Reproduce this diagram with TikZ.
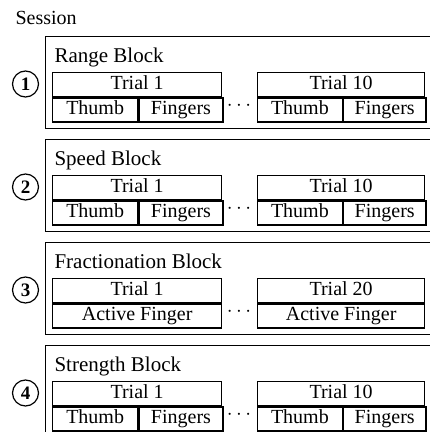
\documentclass[tikz,border=0pt]{standalone}
\usepackage{fontspec}
\setmainfont{Liberation Serif}
\usepackage{tikz}

\begin{document}
\begin{tikzpicture}[x=1pt, y=1pt,
    txt/.style={font=\fontsize{20}{22}\selectfont},
    blockframe/.style={draw, line width=1pt, anchor=north west, minimum width=400pt, minimum height=92pt, inner sep=0pt},
    trialcell/.style={draw, line width=1.3pt, txt, anchor=north west, minimum height=24pt, inner sep=0pt, text height=13.5pt, text depth=4.5pt},
    numcircle/.style={draw, circle, line width=1.2pt, minimum size=26pt, inner sep=0pt, font=\fontsize{19}{19}\selectfont\bfseries}]
    \useasboundingbox (0,0) rectangle (430,432);
    \clip (0,0) rectangle (430,432);
    \node[txt, anchor=base west] (session) at (12,407) {Session};
    \foreach \k/\blockname/\trialn in {1/Range/10, 2/Speed/10, 3/Fractionation/20, 4/Strength/10} {
        \pgfmathsetmacro\ytop{432-36-103*(\k-1)}
        \node[blockframe] (blk\k) at (45,\ytop) {};
        \node[txt, font=\fontsize{21}{22}\selectfont, anchor=base west] (title\k) at (51,\ytop-27) {\blockname\ Block};
        \node[numcircle] (num\k) at (25.5,\ytop-48) {\k};
        \node[trialcell, minimum width=169pt] (first\k) at (52,\ytop-36) {Trial 1};
        \node[trialcell, minimum width=167pt] (last\k) at (257,\ytop-36) {Trial \trialn};
        \ifnum\k=3
            \node[trialcell, minimum width=169pt] (activeA\k) at (first\k.south west) {Active Finger};
            \node[trialcell, minimum width=167pt] (activeB\k) at (last\k.south west) {Active Finger};
        \else
            \node[trialcell, minimum width=85pt] (thumbA\k) at (first\k.south west) {Thumb};
            \node[trialcell, minimum width=84pt] (fingA\k) at (thumbA\k.north east) {Fingers};
            \node[trialcell, minimum width=84.5pt] (thumbB\k) at (last\k.south west) {Thumb};
            \node[trialcell, minimum width=82.5pt] (fingB\k) at (thumbB\k.north east) {Fingers};
        \fi
        \node[txt] (dots\k) at (239,\ytop-70) {$\cdots$};
    }
\end{tikzpicture}
\end{document}
